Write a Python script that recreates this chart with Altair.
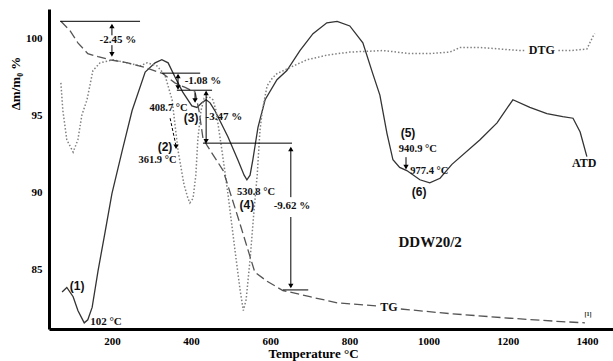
import altair as alt
import pandas as pd

# ---------------- data ----------------
atd_T = [74, 86, 102, 114, 130, 139, 150, 165, 182, 200, 226, 251, 284, 309, 326, 342, 359, 379,
         402, 415, 427, 438, 448, 460, 493, 518, 534, 541, 549, 556, 569, 587, 617, 642, 675, 708,
         743, 769, 801, 834, 859, 877, 895, 910, 927, 945, 978, 1003, 1029, 1059, 1130, 1173, 1213,
         1256, 1299, 1339, 1365, 1383, 1400]
atd_y = [83.5, 83.8, 83.2, 82.3, 81.5, 81.7, 82.5, 84.9, 87.3, 89.9, 92.7, 95.3, 97.8, 98.4, 98.6,
         98.4, 97.5, 96.5, 95.6, 95.5, 95.8, 96.0, 95.8, 95.3, 93.6, 92.1, 91.1, 90.8, 91.1, 92.1,
         94.2, 96.0, 97.3, 97.9, 99.2, 100.3, 101.0, 101.1, 100.8, 99.7, 97.7, 96.3, 93.8, 92.1,
         91.6, 91.4, 90.8, 90.6, 90.9, 91.8, 93.4, 94.5, 96.0, 95.5, 95.1, 94.9, 94.8, 93.9, 92.3]

dtg_T = [71, 76, 86, 102, 114, 124, 137, 152, 170, 203, 238, 271, 289, 314, 334, 352, 367, 382,
         392, 397, 405, 412, 417, 425, 433, 445, 455, 463, 478, 493, 511, 524, 532, 539, 549, 559,
         567, 574, 580, 592, 605, 617, 650, 693, 743, 801, 885, 953, 1003, 1054, 1080, 1130, 1231,
         1245, 1328, 1360, 1400, 1415, 1420]
dtg_y = [97.1, 95.3, 93.4, 92.6, 93.4, 95.0, 96.0, 97.9, 98.4, 98.6, 98.4, 98.2, 98.4, 98.2, 97.6,
         96.0, 92.7, 90.5, 89.6, 89.3, 89.6, 91.1, 93.4, 95.3, 96.1, 96.2, 96.0, 95.3, 92.7, 89.9,
         86.2, 83.6, 82.3, 83.0, 85.6, 88.8, 91.1, 94.0, 95.3, 96.9, 97.4, 97.7, 98.1, 98.6, 98.9,
         99.1, 99.2, 99.0, 99.0, 99.1, 99.4, 99.4, 99.2, 99.2, 99.2, 99.2, 99.3, 100.1, 100.3]
dtg_gap = 1290   # label "DTG" sits in the gap

tg_T = [71, 94, 114, 139, 165, 195, 240, 283, 329, 359, 385, 410, 420, 430, 441, 481, 518, 549,
        561, 592, 632, 700, 769, 870, 930, 1054, 1206, 1324, 1395]
tg_y = [101.1, 100.5, 99.7, 99.0, 98.8, 98.6, 98.4, 98.1, 97.7, 97.1, 96.8, 96.5, 95.3, 93.5, 93.0,
        91.4, 88.4, 85.8, 84.8, 84.2, 83.6, 83.2, 82.8, 82.6, 82.4, 82.1, 81.8, 81.6, 81.5]
tg_gap = 900     # label "TG" sits in the gap

# step lines (horizontal)
h_T1 = [69, 327, 364, 430, 632]
h_T2 = [271, 423, 453, 655, 696]
h_y = [101.1, 97.73, 96.62, 93.18, 83.64]

# arrow shafts (vertical)
v_T = [200, 200, 367, 410, 438, 652, 652, 943]
v_y1 = [100.19, 99.55, 97.6, 96.43, 96.5, 92.86, 88.38, 92.27]
v_y2 = [100.84, 98.9, 96.75, 95.9, 93.25, 89.67, 83.83, 91.56]

# arrow heads
a_T = [200, 200, 367, 367, 410, 438, 438, 652, 652, 943, 362]
a_y = [100.8, 98.95, 97.55, 96.8, 95.95, 96.45, 93.3, 92.8, 83.9, 91.62, 92.95]
a_dir = ["up", "down", "up", "down", "down", "up", "down", "up", "down", "down", "down"]

# dashed pointer to peak (2)
d_T1, d_y1, d_T2, d_y2 = [347], [94.8], [362], [93.0]

serif_text = ["-2.45 %", "-1.08 %", "-3.47 %", "-9.62 %", "408.7 °C", "361.9 °C", "530.8 °C",
              "940.9 °C", "977.4 °C", "102 °C", "DTG", "TG", "ATD", "DDW20/2", "[1]"]
serif_T = [215, 430, 483, 655, 343, 315, 564, 973, 1002, 185, 1286, 900, 1393, 1004, 1403]
serif_y = [99.87, 97.2, 94.87, 89.1, 95.45, 92.08, 90.0, 92.8, 91.36, 81.56, 99.22, 82.53, 91.9, 86.75, 82.1]
serif_size = [11, 11, 11, 11, 10.5, 10.5, 10.5, 10.5, 10.5, 11, 12, 12, 12, 15, 6]

sans_text = ["(1)", "(2)", "(3)", "(4)", "(5)", "(6)"]
sans_T = [112, 334, 400, 541, 948, 976]
sans_y = [83.9, 92.9, 94.8, 89.16, 93.83, 90.0]

# ---------------- frames ----------------
atd = pd.DataFrame({"T": atd_T, "v": atd_y, "i": range(len(atd_T))})
dtg = pd.DataFrame({"T": dtg_T, "v": dtg_y, "i": range(len(dtg_T))})
dtg["seg"] = (dtg["T"] > dtg_gap).astype(int)
tg = pd.DataFrame({"T": tg_T, "v": tg_y, "i": range(len(tg_T))})
tg["seg"] = (tg["T"] > tg_gap).astype(int)
hl = pd.DataFrame({"T": h_T1, "T2": h_T2, "v": h_y})
vl = pd.DataFrame({"T": v_T, "v": v_y1, "v2": v_y2})
ah = pd.DataFrame({"T": a_T, "v": a_y,
                   "shape": ["triangle-up" if d == "up" else "triangle-down" for d in a_dir]})
dd = pd.DataFrame({"T": d_T1, "v": d_y1, "T2": d_T2, "v2": d_y2})
st = pd.DataFrame({"T": serif_T, "v": serif_y, "t": serif_text, "s": serif_size})
ss = pd.DataFrame({"T": sans_T, "v": sans_y, "t": sans_text})

XS = alt.Scale(domain=[41, 1466], nice=False, zero=False)
YS = alt.Scale(domain=[81.1, 101.9], nice=False, zero=False)
SERIF = "Liberation Serif"

x_axis = alt.Axis(values=[200, 400, 600, 800, 1000, 1200, 1400], format="d", title="Temperature  °C",
                  titleFont=SERIF, titleFontSize=13, titleFontWeight="bold", titleColor="black",
                  titleX=264, titleY=24, titleAlign="center", titleBaseline="middle",
                  labelFont=SERIF, labelFontSize=11, labelFontWeight="bold", labelColor="black",
                  labelPadding=6, ticks=False, grid=False, domainWidth=3, domainColor="black")
y_axis = alt.Axis(values=[85, 90, 95, 100], format="d", title="Δm/m₀  %",
                  titleFont=SERIF, titleFontSize=13, titleFontWeight="bold", titleColor="black",
                  titleX=-34, titleY=74, titleAngle=270, titleAlign="center", titleBaseline="middle",
                  labelFont=SERIF, labelFontSize=11, labelFontWeight="bold", labelColor="black",
                  labelPadding=7, ticks=False, grid=False, domainWidth=3, domainColor="black")

X = alt.X("T:Q", scale=XS, axis=x_axis, title="Temperature  °C")
Y = alt.Y("v:Q", scale=YS, axis=y_axis, title="Δm/m₀  %")

atd_layer = alt.Chart(atd).mark_line(color="#333333", strokeWidth=1.3).encode(
    x=X, y=Y, order=alt.Order("i:Q"))

dtg_layer = alt.Chart(dtg).mark_line(color="#808080", strokeWidth=1.5, strokeDash=[1.5, 2]).encode(
    x=X, y=Y, detail="seg:N", order=alt.Order("i:Q"))

tg_layer = alt.Chart(tg).mark_line(color="#555555", strokeWidth=1.3, strokeDash=[9, 4]).encode(
    x=X, y=Y, detail="seg:N", order=alt.Order("i:Q"))

h_layer = alt.Chart(hl).mark_rule(color="black", strokeWidth=1).encode(x=X, x2="T2:Q", y=Y)

v_layer = alt.Chart(vl).mark_rule(color="black", strokeWidth=1).encode(x=X, y=Y, y2="v2:Q")

d_layer = alt.Chart(dd).mark_rule(color="black", strokeWidth=1, strokeDash=[3, 2]).encode(
    x=X, x2="T2:Q", y=Y, y2="v2:Q")

head_layer = alt.Chart(ah).mark_point(filled=True, color="black", size=28, opacity=1).encode(
    x=X, y=Y, shape=alt.Shape("shape:N", scale=None))

serif_layer = alt.Chart(st).mark_text(font=SERIF, fontWeight="bold", color="#111111",
                                      align="center", baseline="middle").encode(
    x=X, y=Y, text="t:N", size=alt.Size("s:Q", scale=None, legend=None))

sans_layer = alt.Chart(ss).mark_text(font="Liberation Sans", fontWeight="bold", fontSize=12,
                                     color="#111111", align="center", baseline="middle").encode(
    x=X, y=Y, text="t:N")

chart = alt.layer(atd_layer, dtg_layer, tg_layer, h_layer, v_layer, d_layer, head_layer,
                  serif_layer, sans_layer).properties(
    width=564, height=320, autosize="none",
    padding={"left": 49, "top": 9, "right": 0, "bottom": 32},
    background="white",
).configure_view(stroke=None)

chart.save("out.html", embed_options={"renderer": "svg", "actions": False})
